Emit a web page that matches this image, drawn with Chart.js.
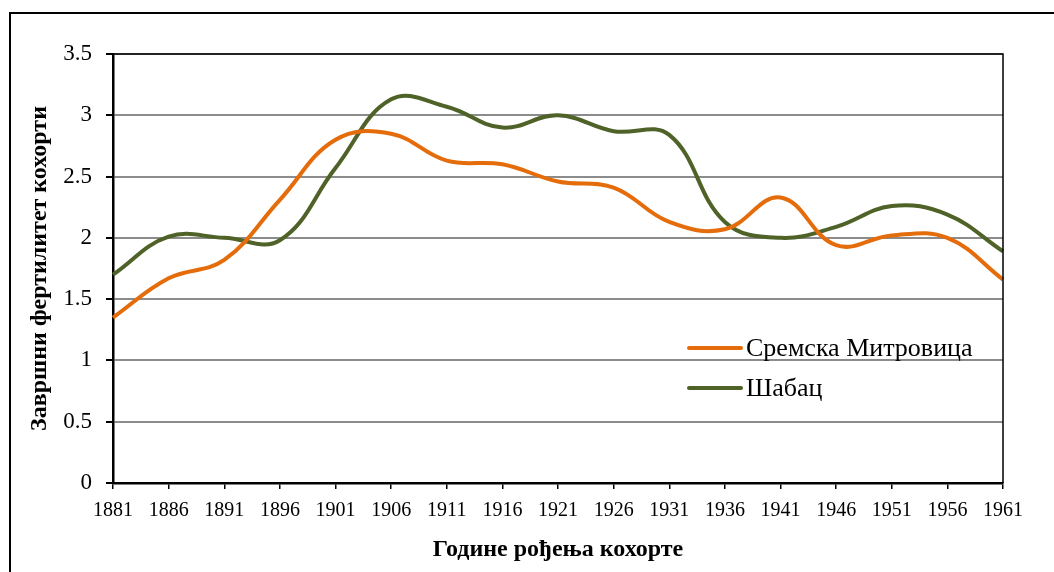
<!DOCTYPE html>
<html>
<head>
<meta charset="utf-8">
<script src="https://cdn.jsdelivr.net/npm/chart.js@4/dist/chart.umd.min.js"></script>
<style>
  body{margin:0;background:#fff;}
  #wrap{width:1054px;height:572px;}
</style>
</head>
<body>
<div id="wrap"><canvas id="chart" width="1054" height="572"></canvas></div>
<script>
const years = ['1881','1886','1891','1896','1901','1906','1911','1916','1921','1926','1931','1936','1941','1946','1951','1956','1961'];
const sremskaMitrovica = [1.35,1.67,1.82,2.31,2.80,2.85,2.63,2.60,2.46,2.41,2.13,2.07,2.33,1.94,2.02,2.00,1.66];
const sabac = [1.70,2.01,2.00,1.98,2.57,3.13,3.07,2.90,3.00,2.87,2.84,2.13,2.00,2.09,2.26,2.19,1.89];
const seriesNames = ['Сремска Митровица','Шабац'];
const yTicks = [0,0.5,1,1.5,2,2.5,3,3.5];

const ORANGE = '#E46C0A';
const GREEN = '#4F6228';
const SERIF = "'Liberation Serif','Times New Roman',serif";

// outer frame + plot border + legend drawn by hand
const framePlugin = {
  id:'frame',
  beforeDraw(c){
    const ctx = c.ctx;
    ctx.save();
    ctx.fillStyle = '#fff';
    ctx.fillRect(0,0,c.width,c.height);
    ctx.strokeStyle = '#000';
    ctx.lineWidth = 2;
    ctx.strokeRect(10,13,1100,700);
    ctx.restore();
  },
  afterDraw(c){
    const ctx = c.ctx, a = c.chartArea;
    ctx.save();
    ctx.strokeStyle = '#000';
    ctx.lineWidth = 1.5;
    ctx.beginPath();
    ctx.moveTo(a.left, a.top);
    ctx.lineTo(a.right, a.top);
    ctx.lineTo(a.right, a.bottom);
    ctx.stroke();
    // legend
    const items = c.data.datasets;
    ctx.font = '26px ' + SERIF;
    ctx.textBaseline = 'middle';
    items.forEach((ds,i)=>{
      const y = 348 + i*40;
      ctx.strokeStyle = ds.borderColor;
      ctx.lineWidth = 4;
      ctx.lineCap = 'round';
      ctx.beginPath();
      ctx.moveTo(689,y);
      ctx.lineTo(741,y);
      ctx.stroke();
      ctx.fillStyle = '#000';
      ctx.fillText(ds.label, 746, y+1);
    });
    ctx.restore();
  }
};

new Chart(document.getElementById('chart'), {
  type:'line',
  data:{
    labels: years,
    datasets:[
      {label: seriesNames[0], data: sremskaMitrovica, borderColor: ORANGE, backgroundColor: ORANGE, borderWidth:4, tension:0.4, pointRadius:0, fill:false},
      {label: seriesNames[1], data: sabac, borderColor: GREEN, backgroundColor: GREEN, borderWidth:4, tension:0.4, pointRadius:0, fill:false}
    ]
  },
  plugins:[framePlugin],
  options:{
    responsive:false,
    animation:false,
    layout:{padding:{left:0, top:54, right:51, bottom:0}},
    plugins:{legend:{display:false}, tooltip:{enabled:false}},
    scales:{
      x:{
        offset:false,
        grid:{display:true, drawOnChartArea:false, color:'#000', tickLength:6, lineWidth:1.5},
        border:{color:'#000', width:2.5},
        ticks:{color:'#000', font:{family:SERIF, size:20}, padding:10, maxRotation:0, autoSkip:false},
        title:{display:true, text:'Године рођења кохорте', color:'#000', font:{family:SERIF, size:24, weight:'bold'}, padding:{top:0,bottom:8}},
        afterFit(s){ s.height = 89; }
      },
      y:{
        min:0, max:3.5,
        afterBuildTicks(s){ s.ticks = yTicks.map(v=>({value:v})); },
        grid:{color:'#8c8c8c', lineWidth:2, tickLength:7, tickColor:'#000'},
        border:{color:'#000', width:2.5},
        ticks:{color:'#000', font:{family:SERIF, size:23}, padding:14, callback:v=>String(v)},
        title:{display:true, text:'Завршни фертилитет кохорти', color:'#000', font:{family:SERIF, size:24, weight:'bold'}, padding:{top:25,bottom:0}},
        afterFit(s){ s.width = 113; }
      }
    }
  }
});
</script>
</body>
</html>
